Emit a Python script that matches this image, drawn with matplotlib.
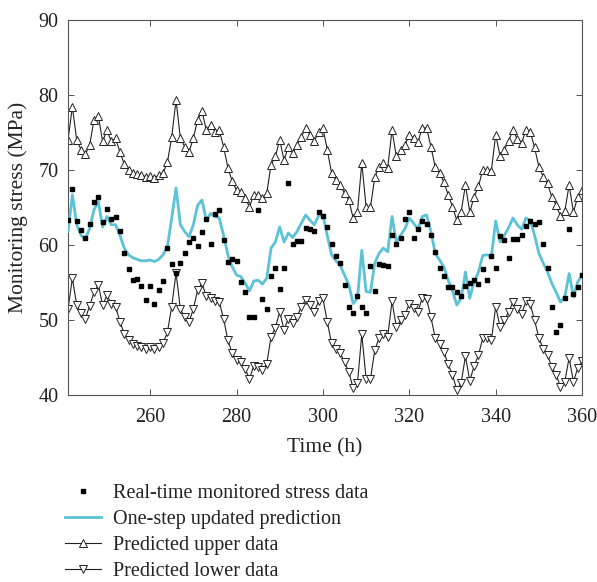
import matplotlib
matplotlib.use("Agg")
import matplotlib.pyplot as plt
import numpy as np

plt.rcParams['font.family'] = ['Liberation Serif', 'DejaVu Serif']

# hourly time axis
hours = np.arange(241, 361)

measured = [63.3, 67.5, 63.2, 62.0, 61.0, 62.8, 65.7, 66.4, 63.0, 64.8,
            63.4, 63.7, 61.9, 58.9, 56.8, 55.3, 55.5, 54.5, 52.7, 54.6,
            52.1, 54.0, 55.2, 59.6, 57.5, 56.3, 57.6, 58.9, 60.4, 60.9,
            59.9, 61.8, 63.5, 60.1, 64.1, 64.6, 60.7, 57.8, 58.1, 57.9,
            55.1, 53.8, 50.4, 50.4, 64.7, 52.8, 51.5, 55.9, 57.0, 54.1,
            57.0, 68.3, 60.1, 60.6, 60.6, 62.3, 62.1, 61.9, 64.4, 63.8,
            62.4, 60.2, 58.6, 57.6, 54.7, 51.8, 51.0, 53.2, 51.8, 51.0,
            57.2, 53.9, 57.5, 57.3, 57.2, 61.4, 60.1, 61.0, 63.4, 64.4,
            61.0, 62.2, 63.2, 62.8, 61.3, 59.1, 57.0, 55.9, 54.4, 54.4,
            53.7, 53.2, 54.5, 55.0, 55.3, 54.8, 56.8, 55.3, 58.5, 57.0,
            61.2, 60.7, 58.3, 60.8, 60.8, 61.4, 62.5, 63.2, 62.8, 63.1,
            60.1, 57.0, 51.8, 48.4, 49.4, 53.0, 62.1, 53.5, 54.4, 56.0]

prediction = [61.8, 66.7, 62.7, 61.3, 60.8, 62.2, 64.7, 65.8, 62.4, 63.8,
              62.7, 62.7, 61.3, 59.6, 58.7, 58.3, 58.1, 57.9, 57.9,
              58.0, 57.8, 58.1, 58.7, 59.8, 63.6, 67.6, 62.7, 61.8, 61.1,
              62.7, 65.3, 66.0, 63.3, 64.2, 63.8, 63.6, 61.3, 58.7, 57.1, 56.0,
              55.8, 54.9, 53.9, 55.2, 55.3, 54.8, 55.6, 59.6, 60.4, 62.4,
              60.4, 61.6, 61.0, 61.8, 62.9, 64.0, 63.3, 62.7, 63.9,
              64.0, 61.3, 58.7, 57.9, 57.3, 56.0, 54.7, 52.2, 52.9, 59.3,
              53.8, 53.7, 57.6, 58.9, 59.6, 59.1, 63.8, 60.4, 61.3, 62.2,
              63.6, 62.9, 62.1, 63.8, 64.0, 61.8, 58.9, 58.0, 57.1, 55.3,
              53.9, 52.0, 52.9, 56.4, 52.9, 55.1, 56.4, 58.6, 58.7, 58.5, 63.2,
              60.4, 61.3, 62.3, 63.6, 62.7, 62.1, 63.6, 63.3, 61.3, 58.9,
              57.6, 56.4, 54.9, 53.7, 52.4, 53.1, 56.2, 53.1, 55.1, 56.0]

upper = [74.0, 78.4, 74.0, 72.7, 72.1, 73.3, 76.7, 77.2, 73.8, 75.3,
         73.8, 74.2, 72.4, 70.8, 70.0, 69.6, 69.5, 69.3, 69.1,
         69.2, 68.9, 69.3, 69.6, 71.0, 74.4, 79.3, 74.2, 73.1, 72.4,
         74.2, 76.7, 77.9, 75.3, 76.0, 75.1, 75.3, 73.1, 70.3, 68.5, 67.3,
         67.1, 66.2, 65.1, 66.7, 66.7, 66.2, 66.9, 70.7, 71.8, 74.0,
         71.3, 73.1, 72.2, 73.3, 74.4, 75.6, 74.7, 73.8, 75.1,
         75.6, 72.7, 69.6, 68.7, 68.0, 66.9, 66.0, 63.6, 64.4, 70.9,
         65.1, 65.0, 69.0, 70.4, 70.9, 70.3, 75.3, 71.8, 72.6, 73.3,
         74.7, 74.2, 73.7, 75.6, 75.6, 73.1, 70.4, 69.6, 68.4, 66.7,
         65.1, 63.3, 64.4, 68.0, 64.4, 66.4, 67.8, 70.0, 70.0, 69.9, 74.7,
         71.9, 72.7, 73.9, 75.3, 74.1, 73.6, 75.3, 75.1, 73.0, 70.4,
         69.1, 68.2, 66.4, 65.3, 63.8, 64.5, 68.0, 64.4, 66.4, 67.3]

lower = [51.5, 55.6, 52.0, 50.9, 50.2, 51.9, 53.7, 54.7, 52.0, 53.3,
         52.2, 51.8, 49.8, 48.2, 47.3, 46.8, 46.6, 46.4, 46.2,
         46.4, 46.2, 46.4, 46.9, 48.4, 51.8, 56.3, 51.5, 50.4, 49.7,
         51.5, 54.0, 54.9, 53.2, 52.9, 52.5, 52.4, 50.2, 47.3, 45.6, 44.7,
         44.4, 43.5, 42.2, 43.9, 43.8, 43.3, 44.2, 47.8, 49.0, 51.1,
         48.7, 50.2, 49.6, 50.4, 51.8, 52.7, 52.0, 51.1, 52.5,
         52.9, 49.8, 46.9, 46.1, 45.6, 44.4, 43.1, 40.9, 41.6, 48.1,
         42.2, 42.1, 46.0, 47.6, 48.2, 47.8, 52.5, 49.1, 50.0, 50.7,
         52.2, 51.6, 51.1, 53.0, 52.8, 50.4, 47.6, 46.8, 45.8, 44.1,
         42.7, 40.7, 41.6, 45.2, 41.9, 43.9, 45.3, 47.6, 47.6, 47.3, 51.8,
         49.1, 50.0, 51.1, 52.4, 51.5, 50.8, 52.5, 52.1, 50.0, 47.6,
         46.2, 45.3, 43.8, 42.7, 41.1, 41.8, 45.0, 41.8, 43.6, 44.5]

x_ticks = [260, 280, 300, 320, 340, 360]
y_ticks = [40, 50, 60, 70, 80, 90]

cyan = '#5bc3d5'
edge = '#555555'
ink = '#222222'

fig = plt.figure(figsize=(5.97, 5.82), dpi=100)
ax = fig.add_axes([0.114, 0.321, 0.861, 0.645])

ax.plot(hours, upper, color=ink, lw=0.8, marker='^', ms=6,
        mfc='white', mec=ink, mew=0.7, zorder=2,
        label='Predicted upper data')
ax.plot(hours, lower, color=ink, lw=0.8, marker='v', ms=6,
        mfc='white', mec=ink, mew=0.7, zorder=2,
        label='Predicted lower data')
ax.plot(hours, prediction, color=cyan, lw=2.0, zorder=3,
        label='One-step updated prediction')
ax.plot(hours, measured, ls='none', marker='s', ms=2.7, color='black',
        zorder=4, label='Real-time monitored stress data')

ax.set_xlim(241, 360)
ax.set_ylim(40, 90)
ax.set_xticks(x_ticks)
ax.set_yticks(y_ticks)
ax.tick_params(direction='in', length=4, width=0.7, colors=edge,
               labelcolor=ink, labelsize=14.5, top=True, right=True)
ax.tick_params(axis='x', pad=9)
ax.tick_params(axis='y', pad=7)
for s in ax.spines.values():
    s.set_color(edge)
    s.set_linewidth(0.8)

ax.set_xlabel('Time (h)', fontsize=15.5, color=ink)
ax.set_ylabel('Monitoring stress (MPa)', fontsize=15.5, color=ink)
ax.xaxis.set_label_coords(0.5, -0.115)
ax.yaxis.set_label_coords(-0.078, 0.5)

h, l = ax.get_legend_handles_labels()
order = [3, 2, 0, 1]
leg = fig.legend([h[i] for i in order], [l[i] for i in order],
                 loc='upper left', bbox_to_anchor=(0.096, 0.182),
                 frameon=False, fontsize=14.5, handlelength=1.75,
                 handletextpad=0.62, labelspacing=0.34, borderaxespad=0)
for t in leg.get_texts():
    t.set_color(ink)

fig.savefig('out.png', dpi=100)
